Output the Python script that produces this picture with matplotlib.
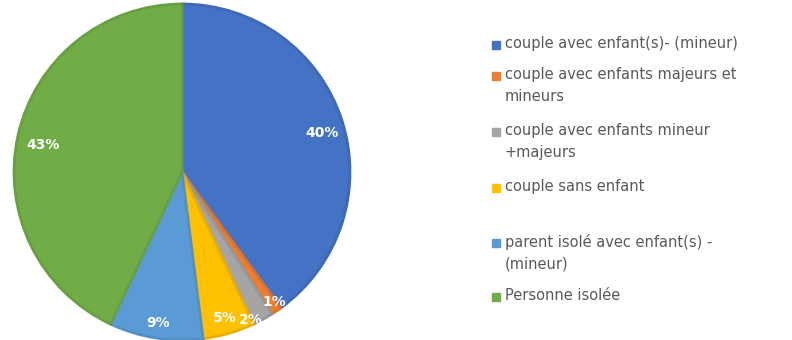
import numpy as np
import matplotlib.pyplot as plt
from matplotlib.patches import Rectangle

labels = ["couple avec enfant(s)- (mineur)",
          "couple avec enfants majeurs et\nmineurs",
          "couple avec enfants mineur\n+majeurs",
          "couple sans enfant",
          "parent isolé avec enfant(s) -\n(mineur)",
          "Personne isolée"]
values = [40, 1, 2, 5, 9, 43]
colors = ["#4472C4", "#ED7D31", "#A5A5A5", "#FFC000", "#5B9BD5", "#70AD47"]
edges = ["#3F68B5", "#D9722C", "#979797", "#E8AF00", "#5390C8", "#66A041"]
# percent label placement: radius fraction and angle nudge (deg)
label_dist = [0.865, 0.95, 0.97, 0.905, 0.91, 0.84]
label_nudge = [-2.4, 1.0, -4.0, 0, 0, 1.5]

# legend rows: y of first text line (pixels from top)
leg_y = [45, 76, 132, 188, 243, 297]

W, H = 792, 340
fig = plt.figure(figsize=(W / 100, H / 100), dpi=100)

cx, cy, r = 182, 172, 168
ax = fig.add_axes([(cx - r) / W, (H - cy - r) / H, 2 * r / W, 2 * r / H])
wedges, texts, autotexts = ax.pie(values, colors=colors, startangle=90, counterclock=False,
                                  autopct="%d%%", pctdistance=0.87,
                                  wedgeprops=dict(linewidth=2),
                                  textprops=dict(color="white", fontsize=10, fontweight="bold"))
for w, e, t, d, n in zip(wedges, edges, autotexts, label_dist, label_nudge):
    w.set_edgecolor(e)
    th = np.deg2rad((w.theta1 + w.theta2) / 2 + n)
    t.set_position((d * np.cos(th), d * np.sin(th)))
ax.set_xlim(-1, 1)
ax.set_ylim(-1, 1)
ax.set_aspect("equal")

for lab, c, y in zip(labels, colors, leg_y):
    fig.patches.append(Rectangle((492 / W, (H - y - 4) / H), 8 / W, 8 / H,
                                 transform=fig.transFigure, color=c))
    fig.text(505 / W, (H - y + 9) / H, lab, fontsize=10.5, color="#595959",
             va="top", ha="left", linespacing=1.55)

plt.savefig("out.png", dpi=100)
